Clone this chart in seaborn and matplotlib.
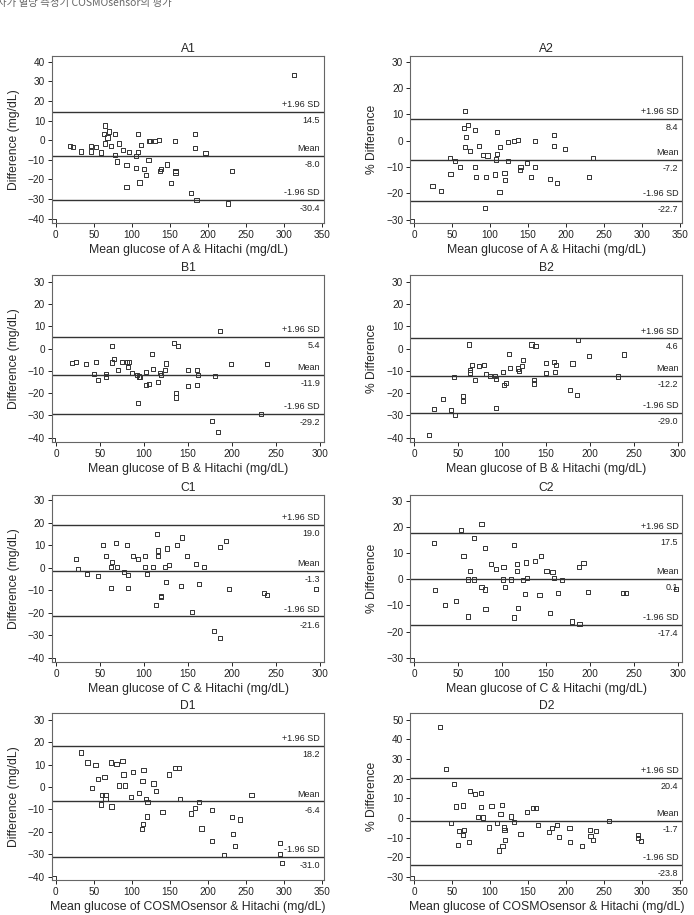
import matplotlib
matplotlib.use('Agg')
import matplotlib.pyplot as plt
import matplotlib.transforms as mtransforms
import pandas as pd
import seaborn as sns

# panel names, axis labels and Bland-Altman stats
panel_names = ['A1', 'A2', 'B1', 'B2', 'C1', 'C2', 'D1', 'D2']
x_labels = ['Mean glucose of A & Hitachi (mg/dL)', 'Mean glucose of A & Hitachi (mg/dL)',
            'Mean glucose of B & Hitachi (mg/dL)', 'Mean glucose of B & Hitachi (mg/dL)',
            'Mean glucose of C & Hitachi (mg/dL)', 'Mean glucose of C & Hitachi (mg/dL)',
            'Mean glucose of COSMOsensor & Hitachi (mg/dL)', 'Mean glucose of COSMOsensor & Hitachi (mg/dL)']
y_labels = ['Difference (mg/dL)', '% Difference'] * 4
means = [-8.0, -7.2, -11.9, -12.2, -1.3, 0.1, -6.4, -1.7]
upper_sd = [14.5, 8.4, 5.4, 4.6, 19.0, 17.5, 18.2, 20.4]
lower_sd = [-30.4, -22.7, -29.2, -29.0, -21.6, -17.4, -31.0, -23.8]
y_ticks = [range(-40, 41, 10), range(-30, 31, 10), range(-40, 31, 10), range(-40, 31, 10),
           range(-40, 31, 10), range(-30, 31, 10), range(-40, 31, 10), range(-30, 51, 10)]
x_ticks = [range(0, 351, 50), range(0, 351, 50), range(0, 301, 50), range(0, 301, 50),
           range(0, 301, 50), range(0, 301, 50), range(0, 351, 50), range(0, 351, 50)]
y_limits = [(-42.2, 42.9), (-31.2, 32.2), (-42, 33), (-42, 33),
            (-41.8, 32.2), (-31.6, 32.2), (-41.4, 33), (-31.6, 53.4)]

# (mean, difference) points
a1_points = [(-3, -41.2), (18.8, -2.9), (23, -3.6), (33, -5.8), (46, -3.1), (46.4, -5.8), (53, -3.6),
             (59, -6.3), (65, 7.5), (63.4, 3.1), (68, 1.4), (70, 4.4), (65, -1.7), (73, -2.9),
             (78, 3.1), (78, -7.5), (80, -10.9), (83.6, -1.7), (88, -4.8), (95.8, -6.1), (93, -12.8),
             (93, -24), (105, -8), (105, -14), (107.6, 3.2), (107.6, -6.1), (110, -21.6), (112, -2.4),
             (116.4, -14.6), (118.5, -17.7), (122, -9.9), (122.5, -0.3), (124, -0.3), (131, -0.3),
             (135.6, 0.2), (137, -15.5), (138, -14.6), (146, -12.4), (152, -21.8), (157, -0.5),
             (157.5, -15.7), (157.5, -16.5), (177.6, -26.9), (183, 3.1), (183, -4.1), (185, -30.5),
             (197, -6.6), (226.6, -32.3), (232, -15.8), (313, 33.2)]
a2_points = [(-3.5, -30.5), (24.2, -17.2), (35.2, -19.1), (47, -6.4), (48, -12.5), (54, -7.8), (60.4, -9.9),
             (66.5, 11.3), (65.6, 4.8), (71.4, 5.9), (68.7, 1.5), (67, -2.4), (74, -3.9), (79.7, 4.1),
             (79.7, -9.8), (81.5, -13.6), (85.5, -1.9), (90.3, -5.3), (96.5, -5.6), (95, -13.6),
             (93.8, -25.6), (107, -12.8), (108.8, 3.3), (108.8, -5.1), (107.5, -7.1), (112.3, -19.3),
             (113.2, -2.2), (119, -12.3), (120, -14.9), (123.3, -0.5), (123.3, -7.6), (132, -0.1),
             (136.6, 0.3), (140, -9.9), (139, -11.1), (148.5, -8.4), (154, -13.7), (159, 0), (159, -9.9),
             (179, -14.5), (184, 2.3), (184.6, -2), (188.5, -15.9), (198.7, -3.1), (230, -13.7),
             (235.7, -6.4)]
b1_points = [(-3, -41), (18.2, -6.4), (23, -6), (33.7, -7.1), (43.6, -11.6), (45.9, -6), (48.2, -14.1),
             (56.9, -11.6), (56.9, -12.6), (64, 1.2), (64, -6.3), (66.4, -4.6), (70.5, -9.7), (75, -6),
             (80.8, -6), (83.4, -6), (82.3, -8.3), (86.5, -11), (92.1, -12), (94.4, -12.6), (95.6, -12.8),
             (93.3, -24.6), (102.8, -10.7), (102.8, -16.5), (105.8, -15.9), (109.6, -2.5), (110.4, -9.2),
             (115.7, -15.2), (118.7, -10.9), (119.5, -11.8), (123.6, -9.7), (125.1, -6.7), (133.9, 2.4),
             (138.8, 1.2), (136.9, -19.8), (136.9, -22), (150.2, -9.7), (150.2, -16.7), (160, -9.7),
             (160, -16.5), (161.9, -11.9), (177.5, -32.6), (180.5, -12.4), (184.7, -37.5), (187, 7.7),
             (199.5, -6.8), (232.8, -29.5), (240, -6.8)]
b2_points = [(-3, -41), (17.1, -39), (22, -27.1), (33, -22.8), (41.8, -27.6), (45.2, -12.9), (46.7, -29.9),
             (55.8, -21.2), (55.8, -23.4), (62.3, 1.8), (63.4, -9.6), (63.4, -10.8), (65.7, -7.3),
             (69.5, -14.2), (73.7, -8), (79.4, -7.4), (82, -11.3), (85.8, -12.4), (91.5, -12.3),
             (93, -13.6), (92.7, -26.7), (100.6, -10.7), (101.8, -16.4), (104.8, -15.3), (108.2, -2.4),
             (109.4, -8.6), (118.5, -9), (119.3, -10.2), (122.7, -8), (123.8, -5.2), (133.3, 1.8),
             (137.9, 1), (136.3, -14.2), (136.3, -15.7), (150, -6.4), (150, -11.1), (159.1, -6.2),
             (161.4, -7.3), (160.3, -10.7), (177.4, -18.8), (180, -6.7), (185, -20.7), (186.1, 3.9),
             (198.6, -3.4), (232, -12.6), (238.9, -2.7)]
c1_points = [(-3, -40.8), (23.1, 4), (24.6, -0.6), (34.9, -2.7), (47.8, -3.6), (53.8, 10.2), (57.3, 5.3),
             (64.1, 2.4), (62.2, 0.3), (62.9, -8.9), (67.9, 11.1), (69, 0.3), (77.7, -1.9), (80.8, 9.9),
             (81.5, -3.3), (82.3, -8.9), (87.6, 5.3), (93.3, 3.9), (101.3, 5.3), (101.3, 0.3),
             (103.9, -2.7), (110.4, 0.3), (114.5, 15.1), (114.1, -16.5), (116, 7.6), (116, 5),
             (119.1, -12.5), (119.5, -12.9), (124, 0.3), (124.8, -6.5), (126.3, 8.5), (128.9, 1.3),
             (137.3, 10.2), (143.3, 13.4), (142.6, -8.2), (148.7, 5.3), (155.1, -19.6), (159.3, 1.5),
             (163.1, -7.3), (168, 0.3), (180.1, -27.9), (186.6, 9.1), (186.6, -31.3), (193, 11.7),
             (196.4, -9.3), (236.6, -11.1), (240, -12), (295.4, -9.5)]
c2_points = [(-3, -30.8), (22.8, 14), (24, -4.1), (35, -9.9), (47.2, -8.4), (52.9, 18.7), (56, 8.8),
             (61.3, -14.2), (61.3, -0.1), (63.9, 3.2), (68.1, -0.1), (67.8, 15.8), (76.5, 21.1),
             (76.5, -3), (80.3, 12.1), (80.7, -3.9), (81.1, -11.2), (87.6, 5.7), (93.3, 3.8),
             (100.5, -0.1), (101.6, 4.8), (103.2, -2.9), (110.4, -0.1), (113.8, 13), (113.4, -14.6),
             (116.9, 5.7), (116.9, 3.3), (118.4, -10.9), (123.7, -0.3), (125.6, -5.5), (127.1, 6.4),
             (127.9, 0.6), (137.8, 7.1), (142.4, -6), (143.9, 9), (150.4, 3.2), (154.9, -13),
             (157.2, 2.7), (159.1, 0.4), (163.3, -5.1), (168.3, -0.3), (179.7, -16.1), (187.3, 4.6),
             (188, -17.2), (192.6, 6.1), (197.6, -5), (237.2, -5.3), (241.3, -5.3), (298, -3.6)]
d1_points = [(-3, -40.5), (33.3, 15.4), (41.7, 10.9), (52.2, 9.7), (47.8, -0.6), (55.7, 3.4), (59.2, -7.8),
             (61, -3.7), (64, 4.4), (65.4, -3.7), (65.4, -5.2), (72.8, 10.9), (73.2, -8.7), (79.8, 10.2),
             (82.9, 0.7), (87.7, 11.5), (89, 5.6), (90.8, 0.7), (98.7, -4.3), (101.8, 6.6), (109.6, -2.5),
             (113.2, -18.6), (114.9, -16.5), (114, 2.7), (115.4, 7.7), (118.4, -5.3), (120.6, -6.8),
             (120.2, -13.1), (128.5, 1.6), (131.6, -1.8), (140.4, -11.2), (148.7, 5.6), (157, 8.3),
             (161.8, 8.3), (163.2, -5.2), (178.1, -11.8), (183.3, -9.3), (188.6, -6.6), (191.7, -18.5),
             (205.3, -10.2), (205.7, -24.1), (221, -30.3), (231.6, -13.4), (232.9, -20.8), (235.5, -26.1),
             (242.1, -14.5), (257.5, -3.7), (294.7, -24.8), (294.7, -30), (297.8, -34)]
d2_points = [(-3.5, -30.6), (33.9, 46.1), (41.9, 24.9), (52.4, 17.4), (48.9, -2.6), (55.5, 5.8), (59, -6.7),
             (57.7, -13.7), (63.9, 6.3), (64.3, -8.9), (65.2, -6), (73.1, 13.5), (72.2, -12.3),
             (79.7, 12.3), (87.7, 12.5), (84.6, 0.5), (88.5, 5.6), (90.7, 0.2), (98.2, -4.9), (101.8, 6),
             (108.8, -2.6), (111.9, -16.6), (113.7, 1.9), (115.4, 6.5), (116.3, -14.2), (118.5, -4.9),
             (119, -6), (119.8, -11.4), (127.3, 0.7), (131.3, -2), (140.1, -8.4), (148.5, 3.2),
             (156.4, 5.1), (160.8, 5.1), (163, -3.8), (178, -7), (181.9, -5.3), (188.5, -3.8),
             (190.7, -9.7), (204.4, -5.1), (204.8, -12.1), (220.7, -14.3), (231.3, -6), (232.2, -9.2),
             (235.7, -11.3), (239.6, -6.7), (256, -1.7), (294.7, -8.7), (294.7, -10.4), (299.1, -11.9)]
all_points = [a1_points, a2_points, b1_points, b2_points, c1_points, c2_points, d1_points, d2_points]

sns.set_style('ticks')
plt.rcParams['font.family'] = ['Liberation Sans', 'Noto Sans CJK KR', 'DejaVu Sans']

fig = plt.figure(figsize=(6.94, 9.15), dpi=100)

# header line of the page (cut off at the top, as in the source scan)
fig.text(-0.004, 0.9935, '자가 혈당 측정기 COSMOsensor의 평가', fontsize=7.5, color='#666666',
         family=['Noto Sans CJK KR', 'DejaVu Sans'], va='baseline', ha='left')

lefts = [0.075, 0.5912]
bottoms = [0.7563, 0.5169, 0.2765, 0.0383]
w, h = 0.392, 0.1825
line_col = '#333333'

for i, name in enumerate(panel_names):
    row, col = divmod(i, 2)
    ax = fig.add_axes([lefts[col], bottoms[row], w, h])
    df = pd.DataFrame(all_points[i], columns=['mean', 'diff'])
    sns.scatterplot(data=df, x='mean', y='diff', marker='s', s=9, facecolor='none',
                    edgecolor='#333333', linewidth=0.7, ax=ax)

    trans = mtransforms.blended_transform_factory(ax.transAxes, ax.transData)
    for val, lab in [(upper_sd[i], '+1.96 SD'), (means[i], 'Mean'), (lower_sd[i], '-1.96 SD')]:
        ax.axhline(val, color=line_col, lw=1.0)
        ax.annotate(lab, xy=(0.985, val), xycoords=trans, xytext=(0, 2), textcoords='offset points',
                    ha='right', va='bottom', fontsize=6.5, color='#222222')
        ax.annotate(f'{val:.1f}', xy=(0.985, val), xycoords=trans, xytext=(0, -3),
                    textcoords='offset points', ha='right', va='top', fontsize=6.5, color='#222222')

    xt = list(x_ticks[i])
    ax.set_xlim(-5 if xt[-1] == 350 else -4.5, 353 if xt[-1] == 350 else 305)
    ax.set_ylim(*y_limits[i])
    ax.set_xticks(xt)
    ax.set_yticks(list(y_ticks[i]))
    ax.set_title(name, fontsize=8.7, pad=3)
    ax.set_xlabel(x_labels[i], fontsize=8.8, labelpad=3)
    ax.set_ylabel(y_labels[i], fontsize=8.7, labelpad=6)
    ax.tick_params(direction='out', length=3, width=0.7, labelsize=7.2, pad=2, colors='#222222')
    for side in ['left', 'bottom', 'top', 'right']:
        ax.spines[side].set_color('#666666')
        ax.spines[side].set_linewidth(0.8)

fig.savefig('out.png', dpi=100)
